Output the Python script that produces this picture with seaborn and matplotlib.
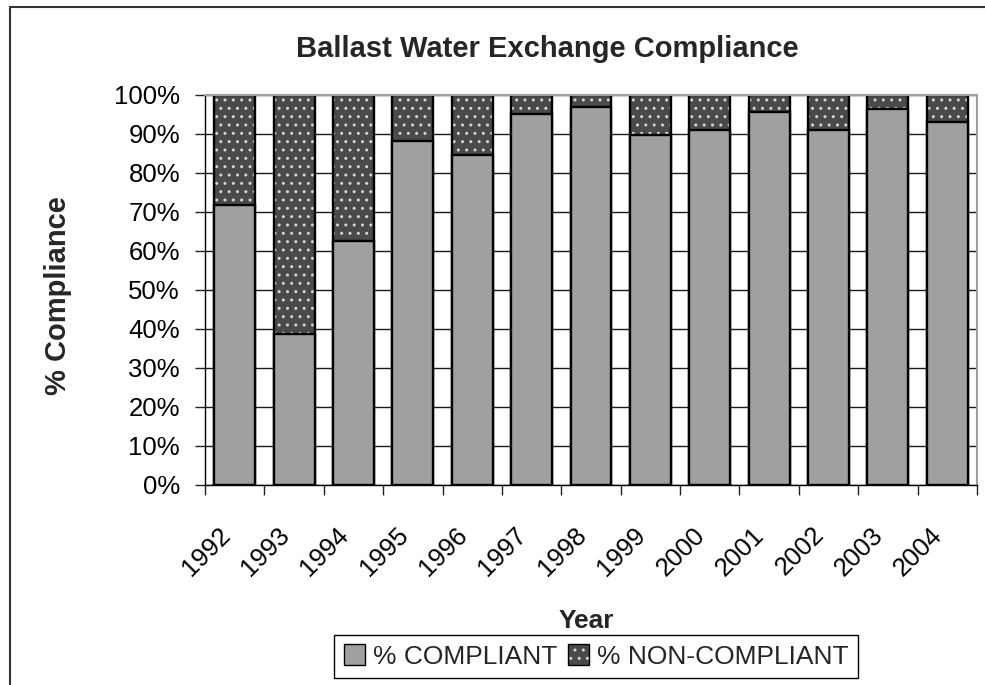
import numpy as np
import pandas as pd
import seaborn as sns
import matplotlib.pyplot as plt
from matplotlib.patches import Patch, Rectangle
from matplotlib.ticker import FixedLocator, PercentFormatter

# values (percent)
years = ['1992', '1993', '1994', '1995', '1996', '1997', '1998',
         '1999', '2000', '2001', '2002', '2003', '2004']
compliant = [71.6, 38.6, 62.4, 88.2, 84.5, 94.9, 96.8, 89.7, 90.8, 95.5, 90.8, 96.4, 92.9]
non_compliant = [28.4, 61.4, 37.6, 11.8, 15.5, 5.1, 3.2, 10.3, 9.2, 4.5, 9.2, 3.6, 7.1]

sns.set_theme(style='white')
plt.rcParams['font.family'] = ['Liberation Sans', 'DejaVu Sans']
plt.rcParams['hatch.linewidth'] = 1.0

df = pd.DataFrame({'Year': years, 'Compliant': compliant, 'NonCompliant': non_compliant})
df['Total'] = df['Compliant'] + df['NonCompliant']

light = '#a0a0a0'
dark = '#4a4a4a'
dots = '#d4d4d4'
bw = 0.69

fig = plt.figure(figsize=(9.85, 6.85), dpi=100)
ax = fig.add_axes([205 / 985, 1 - 485 / 685, (977 - 205) / 985, (485 - 94.5) / 685])

# stacked: full bar (non-compliant, dotted) then compliant on top
sns.barplot(data=df, x='Year', y='Total', color=dark, saturation=1, width=bw,
            edgecolor=dots, linewidth=0, hatch='..', errorbar=None, ax=ax)
sns.barplot(data=df, x='Year', y='Total', color='black', fill=False, width=bw,
            linewidth=1.7, errorbar=None, ax=ax)
sns.barplot(data=df, x='Year', y='Compliant', color=light, saturation=1, width=bw,
            edgecolor='black', linewidth=1.7, errorbar=None, ax=ax)

ax.set_xlabel('')
ax.set_ylabel('')
ax.set_xlim(-0.5, len(years) - 0.5)
ax.set_ylim(0, 100)
ax.yaxis.set_major_locator(FixedLocator(range(0, 101, 10)))
ax.yaxis.set_major_formatter(PercentFormatter(100, decimals=0))
ax.grid(axis='y', color='#1a1a1a', linewidth=1)
ax.grid(axis='x', visible=False)
ax.set_axisbelow(True)

ax.set_xticks(np.arange(len(years) + 1) - 0.5, minor=True)
ax.tick_params(axis='y', which='major', left=True, direction='out', length=7,
               width=1, color='#222222', pad=11, labelsize=18.5, labelcolor='black')
ax.tick_params(axis='x', which='major', bottom=True, length=0, pad=27,
               labelsize=18.5, labelcolor='black')
ax.tick_params(axis='x', which='minor', bottom=True, direction='out', length=7,
               width=1, color='#222222')
plt.setp(ax.get_xticklabels(), rotation=45, ha='right')

for s in ['left', 'bottom']:
    ax.spines[s].set_color('black')
    ax.spines[s].set_linewidth(1)
for s in ['top', 'right']:
    ax.spines[s].set_color('#a0a0a0')
    ax.spines[s].set_linewidth(1.5)

fig.text(547.5 / 985, 1 - 57 / 685, 'Ballast Water Exchange Compliance',
         ha='center', va='baseline', fontsize=21, fontweight='bold')
fig.text(58 / 985, 1 - 296 / 685, '% Compliance', rotation=90,
         ha='center', va='center', fontsize=21, fontweight='bold')
fig.text(586 / 985, 1 - 628 / 685, 'Year', ha='center', va='baseline',
         fontsize=19, fontweight='bold')

h1 = Patch(facecolor=light, edgecolor='black', linewidth=1)
h2a = Patch(facecolor=dark, edgecolor=dots, linewidth=0, hatch='..')
h2b = Patch(facecolor='none', edgecolor='black', linewidth=1)
leg = fig.legend([h1, (h2a, h2b)], ['% COMPLIANT', '% NON-COMPLIANT'],
                 loc='center', bbox_to_anchor=(596 / 985, 1 - 656.5 / 685),
                 ncol=2, frameon=True, fancybox=False, edgecolor='black',
                 framealpha=1, fontsize=19, handlelength=0.8, handleheight=0.8,
                 handletextpad=0.3, columnspacing=0.4, borderpad=0.35)
leg.get_frame().set_linewidth(1)

# chart area border (runs off the right and bottom edges)
fig.add_artist(Rectangle((9.5 / 985, -0.1), 1.2, 1 - 6.5 / 685 + 0.1,
                         transform=fig.transFigure, fill=False,
                         edgecolor='#333333', linewidth=1.5))

fig.savefig('out.png', dpi=100)
